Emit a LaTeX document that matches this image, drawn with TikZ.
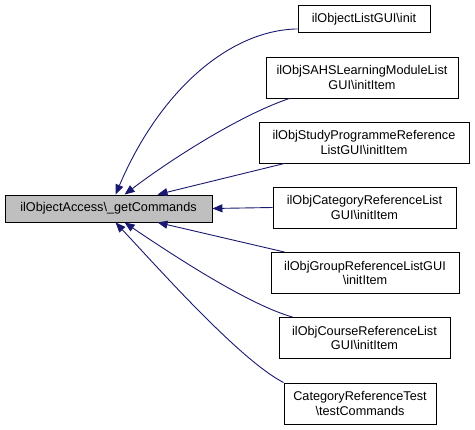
\documentclass[tikz,border=0pt]{standalone}
\usepackage{fontspec}
\setmainfont{Liberation Sans}
\usetikzlibrary{arrows.meta}
\definecolor{edgeblue}{HTML}{191970}
\definecolor{mainfill}{HTML}{BFBFBF}
\tikzset{
  box/.style={draw=black, line width=0.9pt, fill=white, inner sep=0pt, align=center,
    font=\fontsize{12.7}{14.5}\selectfont},
  mainbox/.style={box, fill=mainfill},
  edge/.style={draw=edgeblue, line width=0.9pt, -{Triangle[length=10pt,width=8pt]}},
}
\begin{document}
\begin{tikzpicture}[x=1pt,y=-1pt]
\useasboundingbox (0,0) rectangle (475,430);
\node[mainbox, minimum width=207pt, minimum height=27pt] (main) at (108.5,208.5) {ilObjectAccess\textbackslash\_getCommands};
\node[box, minimum width=132pt, minimum height=27pt] (n1) at (364,19) {ilObjectListGUI\textbackslash init};
\node[box, minimum width=192pt, minimum height=41pt] (n2) at (362,77.5) {ilObjSAHSLearningModuleList\\GUI\textbackslash initItem};
\node[box, minimum width=210pt, minimum height=41pt] (n3) at (364,142.5) {ilObjStudyProgrammeReference\\ListGUI\textbackslash initItem};
\node[box, minimum width=183pt, minimum height=41pt] (n4) at (364.5,207.5) {ilObjCategoryReferenceList\\GUI\textbackslash initItem};
\node[box, minimum width=188pt, minimum height=41pt] (n5) at (365,273) {ilObjGroupReferenceListGUI\\\textbackslash initItem};
\node[box, minimum width=171pt, minimum height=41pt] (n6) at (364.5,338) {ilObjCourseReferenceList\\GUI\textbackslash initItem};
\node[box, minimum width=152pt, minimum height=41pt] (n7) at (360,403.5) {CategoryReferenceTest\\\textbackslash testCommands};

\draw[edge] ([yshift=4pt]n1.south west) .. controls (230,30) and (160,90) .. ([xshift=111pt]main.north west);
\draw[edge] ([xshift=24pt]n2.south west) .. controls (240,115) and (170,160) .. ([xshift=120pt]main.north west);
\draw[edge] ([xshift=26pt]n3.south west) -- ([xshift=153pt]main.north west);
\draw[edge] (n4.west) -- (main.east);
\draw[edge] ([xshift=14pt]n5.north west) -- ([xshift=153pt]main.south west);
\draw[edge] ([xshift=14pt]n6.north west) .. controls (250,305) and (180,260) .. ([xshift=120pt]main.south west);
\draw[edge] (n7.north west) .. controls (240,360) and (160,270) .. ([xshift=111pt]main.south west);
\end{tikzpicture}
\end{document}
